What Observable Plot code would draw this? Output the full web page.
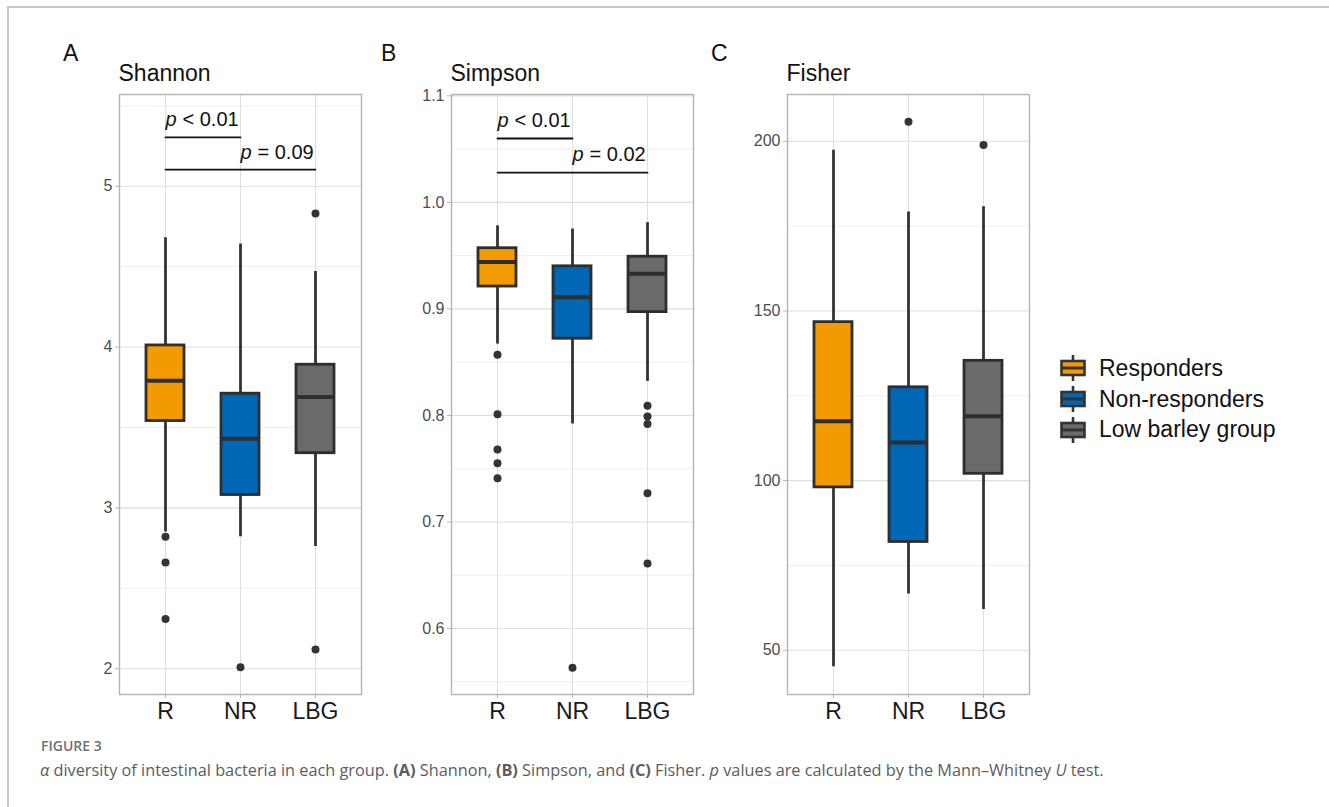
<!DOCTYPE html>
<html><head><meta charset="utf-8">
<script src="https://cdn.jsdelivr.net/npm/d3@7"></script>
<script src="https://cdn.jsdelivr.net/npm/@observablehq/plot@0.6"></script>
<style>
body{margin:0;background:#fff;}
#root{position:relative;width:1329px;height:807px;overflow:hidden;background:#fff;font-family:"Liberation Sans",Arial,sans-serif;}
.panel{position:absolute;}
#border{position:absolute;left:7px;top:6px;width:1330px;height:810px;border-top:2px solid #c6c6c6;border-left:2px solid #c6c6c6;}
#overlay{position:absolute;left:0;top:0;pointer-events:none;}
#legend{position:absolute;left:1059px;top:353px;}
.li{display:flex;align-items:center;height:30.8px;}
.li span{font-size:23px;color:#111;margin-left:12px;}
</style></head><body><div id="root"><div id="border"></div></div>
<script>
// ---------- data ----------
const groups = ["R", "NR", "LBG"];
const groupNames = ["Responders", "Non-responders", "Low barley group"];
const groupColors = ["#f39a00", "#0066b6", "#6a6a6a"];

// Shannon
const shannonLow = [2.85, 2.82, 2.76];
const shannonQ1 = [3.54, 3.08, 3.34];
const shannonMedian = [3.79, 3.43, 3.69];
const shannonQ3 = [4.01, 3.71, 3.89];
const shannonHigh = [4.68, 4.64, 4.47];
const shannonOutlierGroup = ["R", "R", "R", "NR", "LBG", "LBG"];
const shannonOutlierValue = [2.82, 2.66, 2.31, 2.01, 4.83, 2.12];
const shannonTicks = [2, 3, 4, 5];
const shannonMinor = [2.5, 3.5, 4.5, 5.5];

// Simpson
const simpsonLow = [0.867, 0.792, 0.832];
const simpsonQ1 = [0.921, 0.872, 0.897];
const simpsonMedian = [0.944, 0.911, 0.933];
const simpsonQ3 = [0.957, 0.940, 0.949];
const simpsonHigh = [0.978, 0.975, 0.981];
const simpsonOutlierGroup = ["R", "R", "R", "R", "R", "NR", "LBG", "LBG", "LBG", "LBG", "LBG"];
const simpsonOutlierValue = [0.857, 0.801, 0.768, 0.755, 0.741, 0.563, 0.809, 0.799, 0.792, 0.727, 0.661];
const simpsonTicks = [0.6, 0.7, 0.8, 0.9, 1.0, 1.1];
const simpsonMinor = [0.55, 0.65, 0.75, 0.85, 0.95, 1.05];

// Fisher
const fisherLow = [45.1, 66.6, 62.0];
const fisherQ1 = [98.0, 81.9, 102.0];
const fisherMedian = [117.5, 111.2, 119.0];
const fisherQ3 = [146.7, 127.5, 135.3];
const fisherHigh = [197.4, 179.2, 180.7];
const fisherOutlierGroup = ["NR", "LBG"];
const fisherOutlierValue = [205.8, 198.9];
const fisherTicks = [50, 100, 150, 200];
const fisherMinor = [75, 125, 175];

// significance brackets
const shannonBracketFrom = ["R", "R"];
const shannonBracketTo = ["NR", "LBG"];
const shannonBracketY = [5.303, 5.103];
const shannonBracketText = ["< 0.01", "= 0.09"];
const simpsonBracketFrom = ["R", "R"];
const simpsonBracketTo = ["NR", "LBG"];
const simpsonBracketY = [1.060, 1.028];
const simpsonBracketText = ["< 0.01", "= 0.02"];

const panelLetters = ["A", "B", "C"];
const panelTitles = ["Shannon", "Simpson", "Fisher"];

// ---------- layout ----------
const ML = 60, MR = 10, MT = 10, MB = 40, FW = 242, FH = 600;
const FRAME_TOP = 94;

function makePanel(cfg) {
  const rows = groups.map((g, i) => ({g, low: cfg.low[i], q1: cfg.q1[i], med: cfg.med[i], q3: cfg.q3[i], high: cfg.high[i]}));
  const outs = cfg.outG.map((g, i) => ({g, v: cfg.outV[i]}));
  const br = (cfg.brFrom || []).map((f, i) => ({id: i, from: f, to: cfg.brTo[i], y: cfg.brY[i], at: i === 0 ? "R" : "NR", label: cfg.brText[i]}));
  const brPts = br.flatMap(b => [{id: b.id, g: b.from, y: b.y}, {id: b.id, g: b.to, y: b.y}]);
  return Plot.plot({
    width: ML + FW + MR, height: MT + FH + MB,
    marginLeft: ML, marginRight: MR, marginTop: MT, marginBottom: MB,
    style: {fontFamily: "Liberation Sans, Arial, sans-serif", background: "transparent", overflow: "visible"},
    x: {type: "band", domain: groups, paddingInner: 0.5, paddingOuter: 0.35},
    y: {domain: cfg.domain},
    color: {domain: groups, range: groupColors},
    marks: [
      Plot.gridY(cfg.minor, {stroke: "#ececec", strokeOpacity: 1, strokeWidth: 0.9}),
      Plot.gridY(cfg.ticks, {stroke: "#dedede", strokeOpacity: 1, strokeWidth: 1.1}),
      Plot.gridX({stroke: "#dedede", strokeOpacity: 1, strokeWidth: 1.1}),
      Plot.frame({stroke: "#b3b3b3", strokeWidth: 1.4}),
      Plot.axisY(cfg.ticks, {tickSize: 4, tickPadding: 3, stroke: "#b3b3b3", fill: "#4d4d4d", fontSize: 16, tickFormat: cfg.fmt, label: null}),
      Plot.axisX({tickSize: 4, tickPadding: 4, stroke: "#b3b3b3", fill: "#1a1a1a", fontSize: 23, label: null}),
      Plot.ruleX(rows, {x: "g", y1: "low", y2: "high", stroke: "#333", strokeWidth: 2.8}),
      Plot.barY(rows, {x: "g", y1: "q1", y2: "q3", fill: "g", stroke: "#2e2e2e", strokeWidth: 2.8}),
      Plot.tickY(rows, {x: "g", y: "med", stroke: "#2e2e2e", strokeWidth: 4}),
      Plot.dot(outs, {x: "g", y: "v", r: 4, fill: "#333", stroke: null}),
      Plot.lineY(brPts, {x: "g", y: "y", z: "id", stroke: "#111", strokeWidth: 1.8}),
      Plot.text(br, {x: "at", y: "y", text: () => "p", fontStyle: "italic", fontSize: 20, textAnchor: "start", lineAnchor: "middle", dy: -17.5, fill: "#111"}),
      Plot.text(br, {x: "at", y: "y", text: "label", fontSize: 20, textAnchor: "start", lineAnchor: "middle", dx: 17, dy: -17.5, fill: "#111"})
    ]
  });
}

const root = document.getElementById("root");
const panels = [
  {left: 118.5, low: shannonLow, q1: shannonQ1, med: shannonMedian, q3: shannonQ3, high: shannonHigh,
   outG: shannonOutlierGroup, outV: shannonOutlierValue, domain: [1.84, 5.57], ticks: shannonTicks, minor: shannonMinor,
   fmt: d3.format("d"), brFrom: shannonBracketFrom, brTo: shannonBracketTo, brY: shannonBracketY, brText: shannonBracketText},
  {left: 450.5, low: simpsonLow, q1: simpsonQ1, med: simpsonMedian, q3: simpsonQ3, high: simpsonHigh,
   outG: simpsonOutlierGroup, outV: simpsonOutlierValue, domain: [0.538, 1.1013], ticks: simpsonTicks, minor: simpsonMinor,
   fmt: d3.format(".1f"), brFrom: simpsonBracketFrom, brTo: simpsonBracketTo, brY: simpsonBracketY, brText: simpsonBracketText},
  {left: 786.5, low: fisherLow, q1: fisherQ1, med: fisherMedian, q3: fisherQ3, high: fisherHigh,
   outG: fisherOutlierGroup, outV: fisherOutlierValue, domain: [36.95, 213.8], ticks: fisherTicks, minor: fisherMinor,
   fmt: d3.format("d")}
];
panels.forEach(p => {
  const el = makePanel(p);
  el.classList.add("panel");
  el.style.left = (p.left - ML) + "px";
  el.style.top = (FRAME_TOP - MT) + "px";
  root.appendChild(el);
});

// overlay text: letters, titles, caption
const ov = d3.select(root).append("svg").attr("id", "overlay").attr("width", 1329).attr("height", 807)
  .style("font-family", "Liberation Sans, Arial, sans-serif");
const letterX = [63, 381, 711];
panelLetters.forEach((t, i) => ov.append("text").attr("x", letterX[i]).attr("y", 61).attr("font-size", 23).attr("fill", "#111").text(t));
panels.forEach((p, i) => ov.append("text").attr("x", p.left).attr("y", 80.5).attr("font-size", 23).attr("fill", "#111").text(panelTitles[i]));

const cap = ov.append("g").style("font-family", "'Open Sans', 'Noto Sans', sans-serif");
cap.append("text").attr("x", 41).attr("y", 751).attr("font-size", 14).attr("font-weight", 600).attr("fill", "#707070").text("FIGURE 3");
const line = cap.append("text").attr("x", 40).attr("y", 776).attr("font-size", 16.3).attr("fill", "#5c5c5c");
[["α", "italic"], [" diversity of intestinal bacteria in each group. ", ""], ["(A)", "bold"], [" Shannon, ", ""],
 ["(B)", "bold"], [" Simpson, and ", ""], ["(C)", "bold"], [" Fisher. ", ""], ["p", "italic"],
 [" values are calculated by the Mann–Whitney ", ""], ["U", "italic"], [" test.", ""]].forEach(([t, s]) => {
  const ts = line.append("tspan").text(t);
  if (s === "italic") ts.attr("font-style", "italic");
  if (s === "bold") ts.attr("font-weight", 700);
});
line.attr("xml:space", "preserve").style("white-space", "pre");

// legend
const leg = d3.select(root).append("div").attr("id", "legend");
groupNames.forEach((n, i) => {
  const row = leg.append("div").attr("class", "li");
  const s = row.append("svg").attr("width", 28).attr("height", 30);
  s.append("line").attr("x1", 14).attr("x2", 14).attr("y1", 2).attr("y2", 28).attr("stroke", "#333").attr("stroke-width", 2.6);
  s.append("rect").attr("x", 2.5).attr("y", 8).attr("width", 23).attr("height", 14).attr("fill", groupColors[i]).attr("stroke", "#333").attr("stroke-width", 2.6);
  s.append("line").attr("x1", 2.5).attr("x2", 25.5).attr("y1", 15).attr("y2", 15).attr("stroke", "#333").attr("stroke-width", 3);
  row.append("span").text(n);
});
</script></body></html>
